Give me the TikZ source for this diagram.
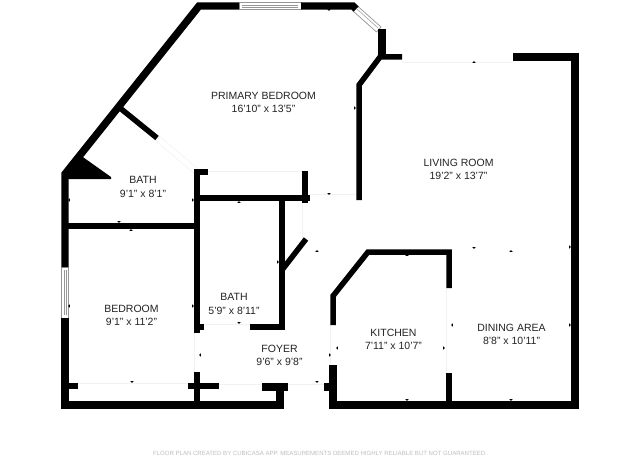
\documentclass[tikz,border=0pt]{standalone}
\usepackage{fontspec}
\setmainfont{Liberation Sans}
\definecolor{wallblack}{RGB}{0,0,0}
\definecolor{labelgray}{RGB}{35,35,35}
\definecolor{windowgray}{RGB}{150,150,150}
\definecolor{openinggray}{RGB}{242,242,242}
\definecolor{footergray}{RGB}{190,190,190}
\tikzset{
    wall/.style={draw=wallblack, line width=7.4pt, line join=miter},
    thinwall/.style={draw=wallblack, line width=5.5pt, line join=miter},
    glass/.style={draw=windowgray, fill=white, line width=0.7pt},
    pane/.style={draw=windowgray, line width=0.5pt},
    opening/.style={draw=openinggray, line width=0.7pt, double=white, double distance=5pt},
    roomlabel/.style={align=center, text=labelgray, font=\fontsize{10.5}{13.6}\selectfont},
}
\begin{document}
\begin{tikzpicture}[x=1pt, y=-1pt]
    \useasboundingbox (0,0) rectangle (640,460);
    \fill[white] (0,0) rectangle (640,460);

    % Door openings
    \draw[opening] (157,138) -- (197,172);
    \draw[opening] (208,174) -- (302,174);
    \draw[opening] (310,197) -- (358,197);
    \draw[opening] (305,203) -- (305,239);
    \draw[opening] (402,60) -- (513,60);
    \draw[opening] (449,288) -- (449,373);
    \draw[opening] (333,325) -- (333,365);
    \draw[opening] (197,333) -- (197,372);
    \draw[opening] (204,327) -- (250,327);
    \draw[opening] (78,386) -- (188,386);
    \draw[opening] (219,387) -- (262,387);
    \draw[opening] (288,387) -- (324,387);

    % Windows
    \draw[glass] (239,2.5) rectangle (301,9.5);
    \draw[pane] (242,5) -- (298,5) (242,7) -- (298,7);
    \draw[glass] (357.5,6) -- (381,27) -- (376.5,32) -- (353,11) -- cycle;
    \draw[pane] (357,9) -- (378,28);
    \draw[glass] (61.5,267) rectangle (68.5,318);
    \draw[pane] (64,270) -- (64,315) (66,270) -- (66,315);

    % Outer walls
    \draw[wall] (65,267) -- (65,174) -- (199,6) -- (239,6);
    \draw[wall] (301,6) -- (353,6) -- (356,9);
    \draw[wall] (382,29) -- (382,58);
    \draw[wall] (65,318) -- (65,405) -- (280,405) -- (280,385);
    \draw[wall] (262,387) -- (288,387);
    \draw[wall] (513,57) -- (575,57) -- (575,405) -- (333,405) -- (333,365);
    \draw[wall] (324,387) -- (333,387);

    % Primary bedroom and living room side
    \draw[thinwall] (402,57) -- (380,57) -- (359,85) -- (359,200);
    \draw[thinwall] (120,108) -- (157,138);
    \fill[wallblack] (62,173) -- (80,155) -- (111,177) -- (111,179) -- (62,179) -- cycle;

    % Inner walls
    \draw[thinwall] (208,172) -- (197,172) -- (197,333);
    \draw[thinwall] (197,372) -- (197,405);
    \draw[thinwall] (197,198) -- (310,198);
    \draw[thinwall] (305,171) -- (305,203);
    \draw[thinwall] (282,198) -- (282,327);
    \draw[thinwall] (250,327) -- (284.5,327);
    \draw[thinwall] (197,327) -- (204,327);
    \draw[thinwall] (282,270) -- (306,239);
    \draw[thinwall] (65,226) -- (197,226);
    \draw[thinwall] (65,386) -- (78,386);
    \draw[thinwall] (188,386) -- (219,386);

    % Kitchen
    \draw[thinwall] (333,325) -- (333,296) -- (368,252) -- (449,252) -- (449,288);
    \draw[thinwall] (449,373) -- (449,405);

    % Measure ticks
    \foreach \tx/\ty/\ta in {329/10/0, 355/108/90, 69/200/-90, 193/200/90, 239/202/180,
        329/194/0, 119/222/0, 131/230/180, 199/262/-90, 193/306/90, 69/306/-90,
        278/262/90, 132/382/0, 239/323/0, 200/355/-90, 330/355/90, 337/348/-90,
        317/251/180, 317/382/0, 474/62/180, 474/248/0, 511/251/180, 407/255/180,
        570/247/90, 570/325/90, 452/325/-90, 444/348/90, 407/400/0, 511/400/0} {
        \fill[wallblack, shift={(\tx,\ty)}, rotate=\ta] (-1.6,-0.8) -- (1.6,-0.8) -- (0,0.9) -- cycle;
    }

    % Room labels
    \node[roomlabel] (primary) at (263.5,102.5) {PRIMARY BEDROOM\\16'10" x 13'5"};
    \node[roomlabel] (bathone) at (143,187) {BATH\\9'1" x 8'1"};
    \node[roomlabel] (bathtwo) at (234,304) {BATH\\5'9" x 8'11"};
    \node[roomlabel] (bedroom) at (131.5,315.5) {BEDROOM\\9'1" x 11'2"};
    \node[roomlabel] (foyer) at (279.5,355.5) {FOYER\\9'6" x 9'8"};
    \node[roomlabel] (living) at (458.5,169.5) {LIVING ROOM\\19'2" x 13'7"};
    \node[roomlabel] (kitchen) at (393.5,339.5) {KITCHEN\\7'11" x 10'7"};
    \node[roomlabel] (dining) at (511.5,334.5) {DINING AREA\\8'8" x 10'11"};

    % Footer
    \node[text=footergray, font=\fontsize{6.05}{7}\selectfont] (footer) at (320,453)
        {FLOOR PLAN CREATED BY CUBICASA APP. MEASUREMENTS DEEMED HIGHLY RELIABLE BUT NOT GUARANTEED.};
\end{tikzpicture}
\end{document}
